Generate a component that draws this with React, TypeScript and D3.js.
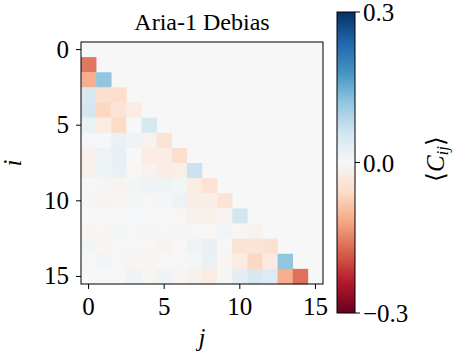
import { useEffect, useRef } from 'react';
import * as d3 from 'd3';

// Lower-triangular correlation values, row i holds j = 0..i-1
const rows: number[][] = [
  [],
  [-0.16],
  [-0.11, 0.12],
  [0.05, -0.05, -0.055],
  [0.055, -0.065, -0.04, -0.025],
  [0.02, -0.025, -0.06, 0.0, 0.05],
  [0.003, 0.003, 0.02, 0.012, -0.01, -0.04],
  [-0.015, 0.018, 0.025, 0.0, -0.025, -0.022, -0.05],
  [-0.014, 0.015, 0.02, -0.005, -0.01, -0.022, -0.018, 0.065],
  [0.002, -0.004, -0.008, 0.008, 0.014, 0.014, 0.008, -0.025, -0.045],
  [0.006, -0.008, -0.006, 0.005, 0.002, 0.006, 0.018, -0.02, -0.02, -0.04],
  [0.0, 0.0, 0.0, 0.004, 0.003, 0.0, -0.005, -0.014, -0.018, -0.008, 0.055],
  [-0.006, -0.002, 0.006, 0.002, -0.004, 0.002, 0.006, -0.002, -0.002, 0.01, -0.002, -0.01],
  [0.008, -0.006, 0.002, 0.002, -0.002, -0.008, -0.002, 0.012, 0.022, 0.002, -0.045, -0.042, -0.048],
  [-0.002, 0.01, 0.002, -0.006, -0.004, -0.002, 0.002, 0.006, 0.02, -0.006, -0.025, -0.065, -0.028, 0.12],
  [0.0, 0.0, 0.0, 0.015, -0.006, 0.015, -0.004, -0.014, -0.025, 0.005, 0.032, 0.05, 0.04, -0.11, -0.165],
];
const axisTicks = [0, 5, 10, 15];
const cbarTicks = [-0.3, 0.0, 0.3];
const title = 'Aria-1 Debias';
// matplotlib RdBu anchor colours, low -> high
const rdbu = ['#67001f', '#b2182b', '#d6604d', '#f4a582', '#fddbc7', '#f7f7f7',
  '#d1e5f0', '#92c5de', '#4393c3', '#2166ac', '#053061'];

export default function App() {
  const svgRef = useRef<SVGSVGElement>(null);

  useEffect(() => {
    if (!svgRef.current) return;
    const width = 457;
    const height = 360;
    const font = '"Liberation Serif", "Times New Roman", serif';
    const fs = 25;

    const svg = d3.select(svgRef.current);
    svg.selectAll('*').remove();
    svg.attr('width', width).attr('height', height);

    const n = rows.length;
    const plot = { x: 81, y: 42, w: 242, h: 242 };

    const color = d3.scaleLinear<string>()
      .domain(d3.range(rdbu.length).map(k => -0.3 + (0.6 * k) / (rdbu.length - 1)))
      .range(rdbu)
      .interpolate(d3.interpolateRgb)
      .clamp(true);

    const x = d3.scaleBand<number>().domain(d3.range(n)).range([plot.x, plot.x + plot.w]);
    const y = d3.scaleBand<number>().domain(d3.range(n)).range([plot.y, plot.y + plot.h]);

    // background (masked cells)
    svg.append('rect')
      .attr('x', plot.x).attr('y', plot.y)
      .attr('width', plot.w).attr('height', plot.h)
      .attr('fill', color(0));

    const cells = rows.flatMap((r, i) => r.map((v, j) => ({ i, j, v })));
    svg.append('g')
      .selectAll('rect')
      .data(cells)
      .enter()
      .append('rect')
      .attr('x', d => x(d.j)!)
      .attr('y', d => y(d.i)!)
      .attr('width', x.bandwidth() + 0.3)
      .attr('height', y.bandwidth() + 0.3)
      .attr('fill', d => color(d.v));

    // frame
    svg.append('rect')
      .attr('x', plot.x).attr('y', plot.y)
      .attr('width', plot.w).attr('height', plot.h)
      .attr('fill', 'none').attr('stroke', '#000').attr('stroke-width', 1);

    const half = x.bandwidth() / 2;

    // X axis
    const gx = svg.append('g');
    axisTicks.forEach(t => {
      const cx = x(t)! + half;
      gx.append('line').attr('x1', cx).attr('x2', cx)
        .attr('y1', plot.y + plot.h).attr('y2', plot.y + plot.h + 5)
        .attr('stroke', '#000');
      gx.append('text').attr('x', cx).attr('y', plot.y + plot.h + 31)
        .attr('text-anchor', 'middle').attr('font-family', font).attr('font-size', fs)
        .text(t);
    });

    // Y axis
    const gy = svg.append('g');
    axisTicks.forEach(t => {
      const cy = y(t)! + half;
      gy.append('line').attr('x1', plot.x - 5).attr('x2', plot.x)
        .attr('y1', cy).attr('y2', cy).attr('stroke', '#000');
      gy.append('text').attr('x', plot.x - 12).attr('y', cy + 8)
        .attr('text-anchor', 'end').attr('font-family', font).attr('font-size', fs)
        .text(t);
    });

    // axis labels
    svg.append('text').attr('x', plot.x + plot.w / 2).attr('y', 346)
      .attr('text-anchor', 'middle').attr('font-family', font).attr('font-size', fs)
      .attr('font-style', 'italic').text('j');
    svg.append('text')
      .attr('transform', `translate(21,${plot.y + plot.h / 2}) rotate(-90)`)
      .attr('text-anchor', 'middle').attr('font-family', font).attr('font-size', fs)
      .attr('font-style', 'italic').text('i');

    // title
    svg.append('text').attr('x', plot.x + plot.w / 2).attr('y', 30)
      .attr('text-anchor', 'middle').attr('font-family', font).attr('font-size', fs - 1)
      .text(title);

    // colorbar
    const cb = { x: 337, y: 12, w: 18, h: 301 };
    const cy = d3.scaleLinear().domain([-0.3, 0.3]).range([cb.y + cb.h, cb.y]);
    const defs = svg.append('defs');
    const grad = defs.append('linearGradient').attr('id', 'cbar')
      .attr('x1', 0).attr('y1', 1).attr('x2', 0).attr('y2', 0);
    rdbu.forEach((c, k) => {
      grad.append('stop').attr('offset', k / (rdbu.length - 1)).attr('stop-color', c);
    });
    svg.append('rect').attr('x', cb.x).attr('y', cb.y)
      .attr('width', cb.w).attr('height', cb.h)
      .attr('fill', 'url(#cbar)').attr('stroke', '#000').attr('stroke-width', 1);
    cbarTicks.forEach(t => {
      const ty = cy(t);
      svg.append('line').attr('x1', cb.x + cb.w).attr('x2', cb.x + cb.w + 5)
        .attr('y1', ty).attr('y2', ty).attr('stroke', '#000');
      svg.append('text').attr('x', cb.x + cb.w + 8).attr('y', ty + 9)
        .attr('font-family', font).attr('font-size', fs)
        .text(t < 0 ? '\u2212' + Math.abs(t).toFixed(1) : t.toFixed(1));
    });
    const lbl = svg.append('text')
      .attr('transform', `translate(444,159) rotate(-90)`)
      .attr('text-anchor', 'middle').attr('font-family', font).attr('font-size', fs);
    lbl.append('tspan').text('\u27E8');
    lbl.append('tspan').attr('font-style', 'italic').text('C');
    lbl.append('tspan').attr('font-style', 'italic').attr('font-size', 17).attr('dy', 4).text('ij');
    lbl.append('tspan').attr('dy', -4).text('\u27E9');
  }, []);

  return (
    <div style={{ position: 'absolute', left: 0, top: 0 }}>
      <svg ref={svgRef} style={{ display: 'block', background: '#fff' }} />
    </div>
  );
}
